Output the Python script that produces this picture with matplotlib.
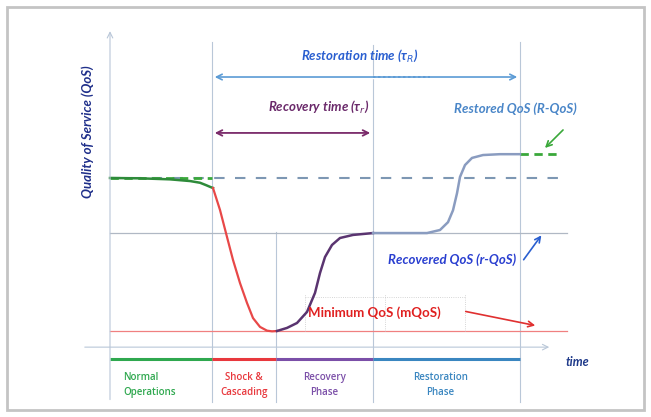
import numpy as np
import matplotlib.pyplot as plt
from matplotlib.patches import Rectangle

# time in arbitrary units, QoS in % of normal level
normal_t = [0, 3, 6, 8, 9, 9.6, 10, 10.3]
normal_q = [100, 99.8, 99.2, 98.2, 97.2, 95.8, 94.8, 94.1]
shock_t = [10.3, 11, 11.7, 12.3, 13, 13.7, 14.3, 15, 15.7, 16.2, 16.7]
shock_q = [94.1, 81.2, 65.3, 51.8, 38.2, 26.5, 17.6, 12.4, 10.2, 9.8, 10]
recovery_t = [16.7, 17.7, 18.7, 19.7, 20.5, 21, 21.5, 22.2, 23, 24.3, 26.3]
recovery_q = [10, 11.8, 14.7, 21.2, 32.4, 44.1, 53.5, 60.6, 64.7, 66.5, 67.6]
restore_t = [26.3, 31.7, 33, 33.8, 34.3, 34.7, 35, 35.5, 36.2, 37.3, 39, 41]
restore_q = [67.6, 67.6, 69.4, 74, 81, 91, 100.6, 107.6, 111.8, 113.5, 114, 114]

t_shock, t_rec, t_rec_end, t_rest_end = 10.2, 16.6, 26.3, 41.0
q_base, q_min, q_rec, q_rest = 100, 10, 67.6, 114

phase_names = ['Normal\nOperations', 'Shock &\nCascading', 'Recovery\nPhase', 'Restoration\nPhase']
phase_edges = [0, t_shock, t_rec, t_rec_end, t_rest_end]
phase_colors = ['#2fa84f', '#e8383d', '#7b4fa8', '#3a86c0']

fig = plt.figure(figsize=(6.51, 4.17), dpi=100)
ax = fig.add_axes([0, 0, 1, 1])
ax.set_xlim(-11, 54.1)
ax.set_ylim(-40.6, 204.7)
ax.axis('off')

# outer frame
fig.patches.append(Rectangle((7 / 651, 7 / 417), 637 / 651, 403 / 417, transform=fig.transFigure,
                             fill=False, ec='#c4c4c4', lw=2))

grid_c = '#b9c7d8'
# axes
ax.annotate('', xy=(0, 188), xytext=(0, -32), arrowprops=dict(arrowstyle='->', color=grid_c, lw=0.8))
ax.annotate('', xy=(44.2, 0.5), xytext=(-2.8, 0.5), arrowprops=dict(arrowstyle='->', color=grid_c, lw=0.8))
for t, top in [(t_shock, 180), (t_rec, 68), (t_rec_end, 178), (t_rest_end, 180)]:
    ax.plot([t, t], [-32, top], color=grid_c, lw=0.8)

# reference levels
ax.plot([0, 45], [q_base, q_base], color='#7d97b3', lw=1.5, ls=(0, (5, 5)))
ax.plot([0, 45.7], [q_rec, q_rec], color='#b0b8c4', lw=0.9)
ax.plot([0, 45.7], [q_min, q_min], color='#f08080', lw=0.9)
ax.plot([0, t_shock], [q_base, q_base], color='#3aa83a', lw=2, ls=(0, (3, 2)))
ax.plot([t_rest_end, 45], [q_rest, q_rest], color='#3aa83a', lw=2, ls=(0, (3, 2)))

# faint bracket around minimum label
ax.plot([19.5, 35.5], [30, 30], color='#c8c8c8', lw=0.6, ls=':')
for t in [19.5, 27.5, 35.5]:
    ax.plot([t, t], [10, 32], color='#c8c8c8', lw=0.6, ls=':')

# QoS curve
ax.plot(normal_t, normal_q, color='#2e8b3a', lw=1.8, solid_joinstyle='round')
ax.plot(shock_t, shock_q, color='#e84848', lw=1.6, solid_joinstyle='round')
ax.plot(recovery_t, recovery_q, color='#5a3470', lw=1.8, solid_joinstyle='round')
ax.plot(restore_t, restore_q, color='#8a9cc0', lw=1.8, solid_joinstyle='round')

# phase bar
for i in range(4):
    ax.plot(phase_edges[i:i + 2], [-6.5, -6.5], color=phase_colors[i], lw=2.2, solid_capstyle='butt')
    a, b = phase_edges[i], phase_edges[i + 1]
    if i == 0:
        ax.text(1.3, -21.5, phase_names[i], color=phase_colors[i], fontsize=7, ha='left', va='center',
                family='Open Sans', fontweight='semibold', linespacing=1.5)
    else:
        ax.text((a + b) / 2 - (0.6 if i == 3 else 0), -21.5, phase_names[i], color=phase_colors[i],
                fontsize=7, ha='center', va='center', family='Open Sans', fontweight='semibold',
                linespacing=1.5)

# time spans
ax.annotate('', xy=(t_rest_end, 159.4), xytext=(t_shock, 159.4),
            arrowprops=dict(arrowstyle='<->', color='#5b9bd5', lw=1.2))
ax.plot([t_rec_end, 32], [159.4, 159.4], color='white', lw=2.5)
ax.plot([t_rec_end, 32], [159.4, 159.4], color='#5b9bd5', lw=1.2, ls=(0, (1.5, 1.5)))
ax.annotate('', xy=(t_rec_end, 126.5), xytext=(t_shock, 126.5),
            arrowprops=dict(arrowstyle='<->', color='#7a2a6a', lw=1.3))

tf = dict(family='Lato', fontweight='bold', style='italic')
ax.text(25, 172, 'Restoration time (τ$_R$)', color='#2a5fd0', fontsize=9.5, ha='center', va='center', **tf)
ax.text(15.8, 142, 'Recovery time (τ$_r$)', color='#6b2a6b', fontsize=9.5, ha='left', va='center', **tf)
ax.text(40.5, 141, 'Restored QoS (R-QoS)', color='#4a86c8', fontsize=9.5, ha='center', va='center', **tf)
ax.text(34.2, 52, 'Recovered QoS (r-QoS)', color='#2a3fd0', fontsize=9.5, ha='center', va='center', **tf)
ax.text(26.4, 20.6, 'Minimum QoS (mQoS)', color='#e02020', fontsize=9.5, ha='center', va='center',
        family='Lato', fontweight='bold')
ax.text(45.6, -8.2, 'time', color='#1f3a8a', fontsize=9, ha='left', va='center', **tf)
ax.text(-2.2, 127, 'Quality of Service (QoS)', color='#1f2f8a', fontsize=9.5, rotation=90,
        ha='center', va='center', **tf)

ax.annotate('', xy=(43.3, 116.5), xytext=(45.5, 129.4), arrowprops=dict(arrowstyle='->', color='#3aa83a', lw=1.2))
ax.annotate('', xy=(43.3, 67.6), xytext=(41.2, 50.6), arrowprops=dict(arrowstyle='->', color='#2a5fd0', lw=1.2))
ax.annotate('', xy=(42.8, 12.9), xytext=(35.3, 21.8), arrowprops=dict(arrowstyle='->', color='#e03030', lw=1.2))

fig.savefig('out.png', dpi=100)
